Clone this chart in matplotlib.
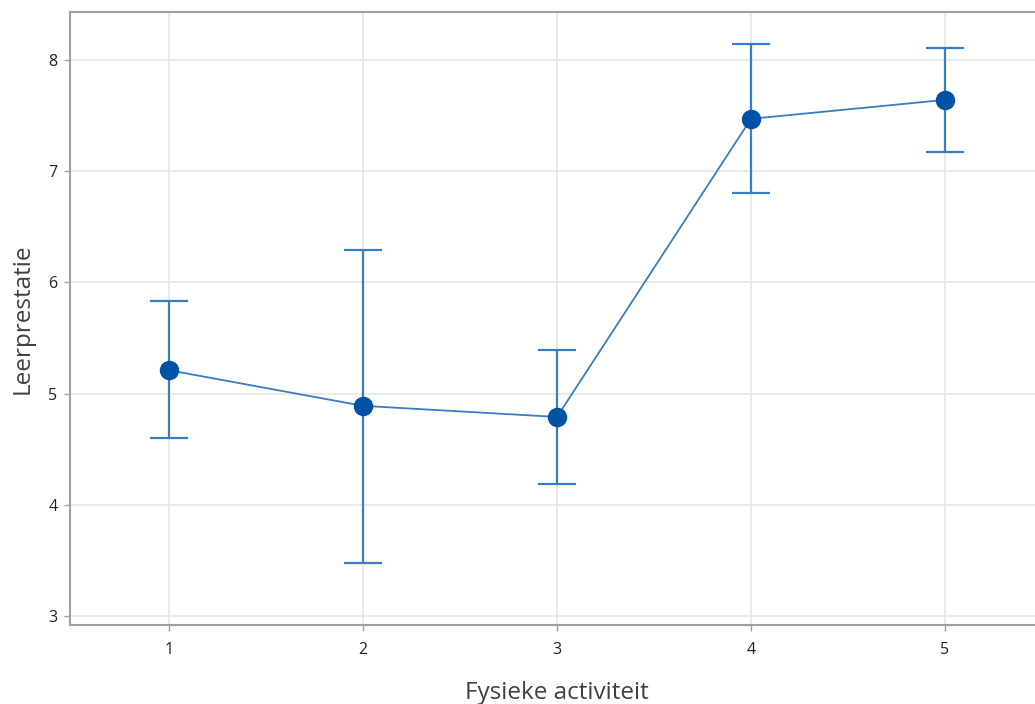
import matplotlib.pyplot as plt
import numpy as np

plt.rcParams['font.family'] = ['Open Sans', 'DejaVu Sans']

# interval plot data
activity = [1, 2, 3, 4, 5]
means = [5.21, 4.89, 4.79, 7.47, 7.64]
upper = [5.83, 6.29, 5.39, 8.14, 8.11]
lower = [4.60, 3.48, 4.19, 6.80, 7.17]

yerr = [np.array(means) - np.array(lower), np.array(upper) - np.array(means)]

fig = plt.figure(figsize=(10.35, 7.04), dpi=100)
ax = fig.add_axes([70/1035, 79/704, 974/1035, 613/704])

ax.errorbar(activity, means, yerr=yerr, fmt='none', ecolor='#3a7cc4',
            elinewidth=1.6, capsize=14, capthick=1.6, zorder=3)
ax.plot(activity, means, color='#3a7cc4', lw=1.3, zorder=3)
ax.plot(activity, means, 'o', color='#0052a5', ms=13, zorder=4)

ax.set_xlim(0.49, 5.51)
ax.set_ylim(2.92, 8.43)
ax.set_xticks(activity)
ax.set_yticks([3, 4, 5, 6, 7, 8])
ax.grid(True, color='#e8e8e8', lw=1.3, zorder=0)
ax.set_axisbelow(True)

for s in ['left', 'bottom', 'top']:
    ax.spines[s].set_color('#a0a0a0')
    ax.spines[s].set_linewidth(1.5)
ax.spines['right'].set_visible(False)
ax.tick_params(colors='#a0a0a0', length=4, width=1, labelsize=11.5, labelcolor='#222222')
ax.tick_params(axis='x', pad=8)
ax.tick_params(axis='y', pad=5)

ax.set_xlabel('Fysieke activiteit', fontsize=17.5, color='#404040', labelpad=17)
ax.set_ylabel('Leerprestatie', fontsize=17.5, color='#404040', labelpad=10)

fig.savefig('out.png', dpi=100)
